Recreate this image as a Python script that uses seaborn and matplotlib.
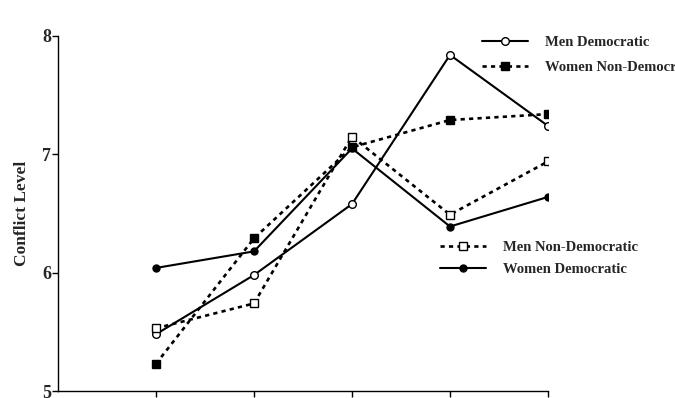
import matplotlib
matplotlib.use("Agg")
import matplotlib.pyplot as plt
import seaborn as sns
import pandas as pd
from matplotlib.lines import Line2D

sns.set_theme(style="white")
plt.rcParams['font.family'] = ['Liberation Serif', 'DejaVu Serif']

positions = [1, 2, 3, 4, 5]
men_dem = [5.48, 5.98, 6.58, 7.84, 7.24]
women_nondem = [5.23, 6.29, 7.06, 7.29, 7.34]
men_nondem = [5.53, 5.74, 7.15, 6.49, 6.94]
women_dem = [6.04, 6.18, 7.05, 6.39, 6.64]
y_ticks = [5, 6, 7, 8]

series = [
    ("Men Democratic", men_dem, "-", "o", "white"),
    ("Women Non-Democratic", women_nondem, (0, (1.6, 1.6)), "s", "black"),
    ("Men Non-Democratic", men_nondem, (0, (1.6, 1.6)), "s", "white"),
    ("Women Democratic", women_dem, "-", "o", "black"),
]

fig = plt.figure(figsize=(6.75, 3.98), dpi=100)
ax = fig.add_axes([58/675, 1-391/398, (548-58)/675, (391-36)/398])

handles = {}
for name, vals, ls, mk, fc in series:
    df = pd.DataFrame({"x": positions, "y": vals})
    lw = 1.5 if ls == "-" else 1.9
    ms = 5.5 if mk == "o" else 6
    if fc == "black" and mk == "o":
        ms = 5
    sns.lineplot(data=df, x="x", y="y", ax=ax, color="black", linewidth=lw,
                 linestyle=ls, marker=mk, markersize=ms, markerfacecolor=fc,
                 markeredgecolor="black", markeredgewidth=1.0, legend=False)
    handles[name] = Line2D([], [], color="black", linewidth=lw, linestyle=ls,
                           marker=mk, markersize=ms, markerfacecolor=fc,
                           markeredgecolor="black", markeredgewidth=1.0)

ax.set_xlim(0, 5)
ax.set_ylim(5, 8)
ax.set_xticks(positions)
ax.set_xticklabels([])
ax.set_yticks(y_ticks)
ax.set_yticklabels([str(t) for t in y_ticks], fontsize=13, fontweight="bold")
ax.tick_params(axis="both", direction="out", length=4, width=1, color="black",
               left=True, bottom=True, pad=1)
ax.set_xlabel("")
ax.set_ylabel("Conflict Level", fontsize=12.5, fontweight="bold", labelpad=9)
for s in ["top", "right"]:
    ax.spines[s].set_visible(False)
for s in ["left", "bottom"]:
    ax.spines[s].set_color("black")
    ax.spines[s].set_linewidth(1.0)

leg_kw = dict(frameon=False, handlelength=3.15, handletextpad=1.15,
              borderpad=0, borderaxespad=0, loc="upper left",
              bbox_transform=fig.transFigure,
              prop={"family": ["Liberation Serif"], "weight": "bold", "size": 10.5})
names1 = ["Men Democratic", "Women Non-Democratic"]
leg1 = ax.legend([handles[n] for n in names1], names1, labelspacing=0.82,
                 bbox_to_anchor=(482/675, 1-36/398), **leg_kw)
ax.add_artist(leg1)
names2 = ["Men Non-Democratic", "Women Democratic"]
ax.legend([handles[n] for n in names2], names2, labelspacing=0.6,
          bbox_to_anchor=(440/675, 1-240.5/398), **leg_kw)

fig.savefig("out.png", dpi=100)
